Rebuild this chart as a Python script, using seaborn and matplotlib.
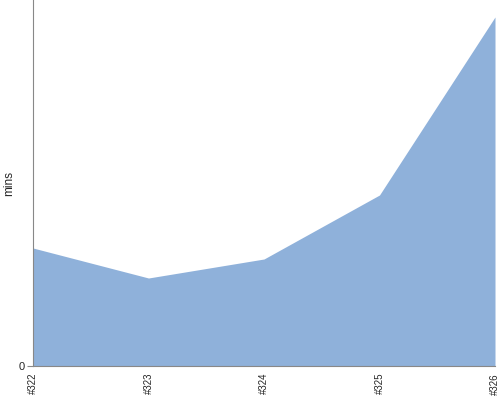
import matplotlib
matplotlib.use("Agg")
import matplotlib.pyplot as plt
import matplotlib.transforms as mtransforms
import seaborn as sns
import pandas as pd

# Donnees
builds = ["#322", "#323", "#324", "#325", "#326"]
mins = [11.8, 8.8, 10.7, 17.1, 34.9]
y_max = 36.6

df = pd.DataFrame({"build": builds, "mins": mins})
df["pos"] = range(len(df))

sns.set_style("white")
plt.rcParams['font.family'] = ['Liberation Sans', 'DejaVu Sans']

fig = plt.figure(figsize=(5, 4), dpi=100)
ax = fig.add_axes([0.066, 0.085, 0.924, 0.915])

couleur = "#8fb1da"
sns.lineplot(data=df, x="pos", y="mins", color=couleur, linewidth=0, ax=ax)
ax.fill_between(df["pos"], df["mins"], 0, color=couleur, linewidth=0)

ax.set_xlim(0, len(df) - 1)
ax.set_ylim(0, y_max)
ax.set_xticks(df["pos"])
ax.set_xticklabels(df["build"], rotation=90, fontsize=7)
ax.set_yticks([0])
ax.set_yticklabels(["0"], fontsize=8)
ax.set_xlabel("")
ax.set_ylabel("mins", fontsize=8.5)
ax.yaxis.set_label_coords(-0.038, 0.5)

# decalage leger des etiquettes vers la droite
decal = mtransforms.ScaledTranslation(2 / 100, 0, fig.dpi_scale_trans)
for lab in ax.get_xticklabels():
    lab.set_transform(lab.get_transform() + decal)

for s in ["top", "right"]:
    ax.spines[s].set_visible(False)
for s in ["left", "bottom"]:
    ax.spines[s].set_color("#888888")
    ax.spines[s].set_linewidth(0.8)
ax.tick_params(axis="x", length=0, pad=5)
ax.tick_params(axis="y", length=4, color="#888888", pad=2, left=True)

fig.savefig("out.png", dpi=100)
